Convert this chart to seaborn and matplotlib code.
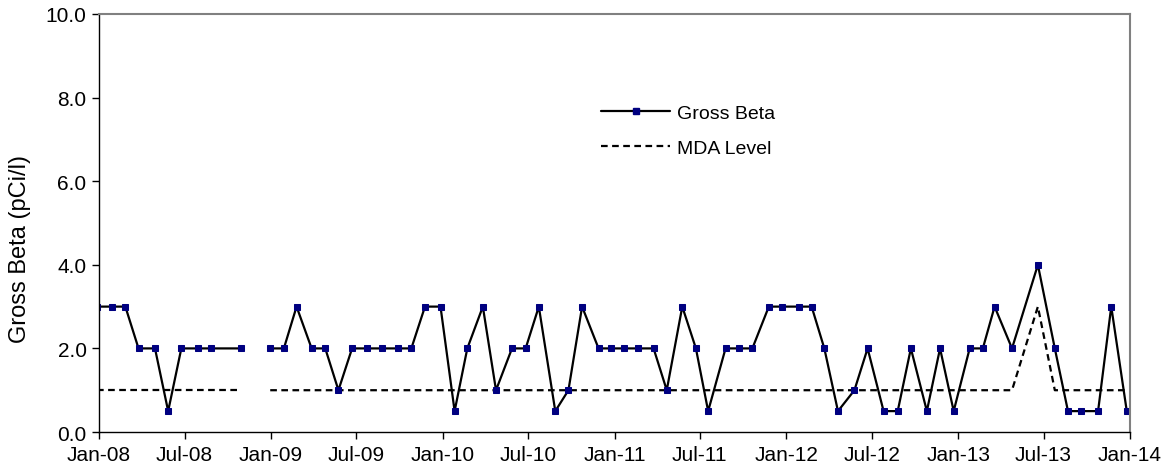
import numpy as np
import pandas as pd
import matplotlib
matplotlib.use("Agg")
import matplotlib.pyplot as plt
import matplotlib.dates as mdates
from matplotlib.lines import Line2D
from matplotlib.ticker import FormatStrFormatter
import seaborn as sns

# sample dates (first one lies just before the axis start and gets clipped)
dates = ["2007-12-27", "2008-01-29", "2008-02-26", "2008-03-25", "2008-04-29", "2008-05-27",
         "2008-06-24", "2008-07-29", "2008-08-26", "2008-10-28", "2008-11-25", "2008-12-30",
         "2009-01-28", "2009-02-24", "2009-03-28", "2009-04-26", "2009-05-24", "2009-06-22",
         "2009-07-24", "2009-08-24", "2009-09-28", "2009-10-26", "2009-11-24", "2009-12-27",
         "2010-01-26", "2010-02-22", "2010-03-27", "2010-04-24", "2010-05-28", "2010-06-26",
         "2010-07-24", "2010-08-28", "2010-09-25", "2010-10-24", "2010-11-28", "2010-12-25",
         "2011-01-22", "2011-02-20", "2011-03-25", "2011-04-22", "2011-05-25", "2011-06-23",
         "2011-07-19", "2011-08-25", "2011-09-23", "2011-10-21", "2011-11-25", "2011-12-22",
         "2012-01-28", "2012-02-24", "2012-03-22", "2012-04-20", "2012-05-25", "2012-06-22",
         "2012-07-26", "2012-08-25", "2012-09-22", "2012-10-26", "2012-11-23", "2012-12-22",
         "2013-01-25", "2013-02-22", "2013-03-19", "2013-04-25", "2013-06-19", "2013-07-25",
         "2013-08-22", "2013-09-19", "2013-10-25", "2013-11-22", "2013-12-25"]

gross_beta = [3, 3, 3, 2, 2, 0.5,
              2, 2, 2, 2, np.nan, 2,
              2, 3, 2, 2, 1, 2,
              2, 2, 2, 2, 3, 3,
              0.5, 2, 3, 1, 2, 2,
              3, 0.5, 1, 3, 2, 2,
              2, 2, 2, 1, 3, 2,
              0.5, 2, 2, 2, 3, 3,
              3, 3, 2, 0.5, 1, 2,
              0.5, 0.5, 2, 0.5, 2, 0.5,
              2, 2, 3, 2, 4, 2,
              0.5, 0.5, 0.5, 3, 0.5]

mda_level = [1, 1, 1, 1, 1, 1,
             1, 1, 1, 1, np.nan, 1,
             1, 1, 1, 1, 1, 1,
             1, 1, 1, 1, 1, 1,
             1, 1, 1, 1, 1, 1,
             1, 1, 1, 1, 1, 1,
             1, 1, 1, 1, 1, 1,
             1, 1, 1, 1, 1, 1,
             1, 1, 1, 1, 1, 1,
             1, 1, 1, 1, 1, 1,
             1, 1, 1, 1, 3, 1,
             1, 1, 1, 1, 1]

df = pd.DataFrame({"date": pd.to_datetime(dates), "beta": gross_beta, "mda": mda_level})
# split into segments at missing samples so the lines break there
df["seg"] = df["beta"].isna().cumsum()
df = df.dropna()

sns.set_style("white")
plt.rcParams["font.family"] = ["Liberation Sans", "DejaVu Sans"]
plt.rcParams["text.color"] = "black"
plt.rcParams["axes.labelcolor"] = "black"
plt.rcParams["xtick.color"] = "black"
plt.rcParams["ytick.color"] = "black"

fig = plt.figure(figsize=(11.69, 4.77), dpi=100)
ax = fig.add_axes([0.0847, 0.0922, 0.8820, 0.8764])

sns.lineplot(data=df, x="date", y="mda", units="seg", estimator=None, ax=ax,
             color="black", linewidth=1.6, linestyle=(0, (3, 2)))
sns.lineplot(data=df, x="date", y="beta", units="seg", estimator=None, ax=ax,
             color="black", linewidth=1.6, marker="s", markersize=5,
             markerfacecolor="#000080", markeredgecolor="#000080")

ax.set_xlim(pd.Timestamp("2008-01-01"), pd.Timestamp("2014-01-01"))
ax.set_ylim(0, 10)
ax.set_yticks(np.arange(0, 10.1, 2))
ax.yaxis.set_major_formatter(FormatStrFormatter("%.1f"))
ax.xaxis.set_major_locator(mdates.MonthLocator(bymonth=[1, 7]))
ax.xaxis.set_major_formatter(mdates.DateFormatter("%b-%y"))
ax.tick_params(axis="both", direction="out", length=5, width=1, labelsize=15,
               bottom=True, left=True, color="black", pad=4)
ax.set_xlabel("")
ax.set_ylabel("Gross Beta (pCi/l)", fontsize=17)
ax.yaxis.set_label_coords(-0.066, 0.44)

for side in ["left", "bottom"]:
    ax.spines[side].set_color("black")
    ax.spines[side].set_linewidth(1)
for side in ["top", "right"]:
    ax.spines[side].set_color("#808080")
    ax.spines[side].set_linewidth(1.5)

handles = [Line2D([], [], color="black", linewidth=1.6, marker="s", markersize=5,
                  markerfacecolor="#000080", markeredgecolor="#000080"),
           Line2D([], [], color="black", linewidth=1.6, linestyle=(0, (3, 2)))]
ax.legend(handles, ["Gross Beta", "MDA Level"], loc="upper left",
          bbox_to_anchor=(0.470, 0.826), frameon=False, fontsize=14,
          handlelength=3.55, labelspacing=0.9, handletextpad=0.36)

fig.savefig("out.png", dpi=100)
